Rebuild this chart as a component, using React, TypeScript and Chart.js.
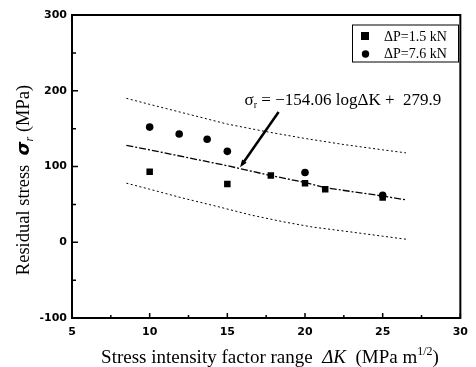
import { useEffect, useRef } from 'react';
import { Chart, registerables } from 'chart.js';

Chart.register(...registerables);

// ---- data ----
const xTickValues = [5, 10, 15, 20, 25, 30];
const yTickValues = [-100, 0, 100, 200, 300];
const seriesLabels = ['ΔP=1.5 kN', 'ΔP=7.6 kN'];

const lowLoadK = [10, 15, 17.8, 20, 21.3, 25];
const lowLoadStress = [93, 77, 88, 78, 70, 59];

const highLoadK = [10, 11.9, 13.7, 15, 20, 25];
const highLoadStress = [152, 143, 136, 120, 92, 62];

const fitK = [8.5, 10, 15, 17.8, 20, 21.3, 25, 26.5];
const fitStress = [128, 122, 101, 88, 79, 72, 61, 56];

const upperK = [8.5, 10, 12.5, 15, 17.5, 20, 22.5, 25, 26.5];
const upperStress = [190, 182, 169, 156, 146, 137, 129, 122, 118];

const lowerK = [8.5, 10, 12, 14.4, 16.5, 18.6, 20.5, 22.8, 25, 26.5];
const lowerStress = [78, 70, 59, 47, 36, 27, 20, 14, 8, 4];

// arrow: from label end to the fitted line
const arrowFrom = { x: 18.3, y: 172 };
const arrowTo = { x: 15.82, y: 99 };
const equationAnchor = { x: 16.11, y: 181 };

const zip = (xs: number[], ys: number[]) => xs.map((x, i) => ({ x, y: ys[i] }));

type Seg = { t: string; font: string; dy?: number };

function drawSegs(ctx: CanvasRenderingContext2D, segs: Seg[], x: number, y: number, align: 'left' | 'center') {
  const widths = segs.map((s) => {
    ctx.font = s.font;
    return ctx.measureText(s.t).width;
  });
  const total = widths.reduce((a, b) => a + b, 0);
  let cx = align === 'center' ? x - total / 2 : x;
  ctx.textAlign = 'left';
  segs.forEach((s, i) => {
    ctx.font = s.font;
    ctx.fillText(s.t, cx, y + (s.dy || 0));
    cx += widths[i];
  });
}

const SERIF = '"Liberation Serif", "Times New Roman", serif';

const decorPlugin = {
  id: 'decor',
  afterDraw(chart: any) {
    const ctx: CanvasRenderingContext2D = chart.ctx;
    const { left, right, top, bottom } = chart.chartArea;
    const xs = chart.scales.x;
    const ys = chart.scales.y;
    ctx.save();
    ctx.strokeStyle = '#000';
    ctx.fillStyle = '#000';

    // frame
    ctx.lineWidth = 2;
    ctx.strokeRect(left, top, right - left, bottom - top);

    // inward ticks
    ctx.lineWidth = 1.5;
    ctx.beginPath();
    for (let v = 5; v <= 30; v += 2.5) {
      const px = xs.getPixelForValue(v);
      const len = v % 5 === 0 ? 5 : 3;
      ctx.moveTo(px, bottom);
      ctx.lineTo(px, bottom - len);
    }
    for (let v = -100; v <= 300; v += 50) {
      const py = ys.getPixelForValue(v);
      const len = v % 100 === 0 ? 6 : 4;
      ctx.moveTo(left, py);
      ctx.lineTo(left + len, py);
    }
    ctx.stroke();

    // arrow
    const ax1 = xs.getPixelForValue(arrowFrom.x);
    const ay1 = ys.getPixelForValue(arrowFrom.y);
    const ax2 = xs.getPixelForValue(arrowTo.x);
    const ay2 = ys.getPixelForValue(arrowTo.y);
    const ang = Math.atan2(ay2 - ay1, ax2 - ax1);
    ctx.lineWidth = 2.5;
    ctx.beginPath();
    ctx.moveTo(ax1, ay1);
    ctx.lineTo(ax2 - 4 * Math.cos(ang), ay2 - 4 * Math.sin(ang));
    ctx.stroke();
    ctx.beginPath();
    ctx.moveTo(ax2, ay2);
    ctx.lineTo(ax2 - 8 * Math.cos(ang - 0.35), ay2 - 8 * Math.sin(ang - 0.35));
    ctx.lineTo(ax2 - 8 * Math.cos(ang + 0.35), ay2 - 8 * Math.sin(ang + 0.35));
    ctx.closePath();
    ctx.fill();

    // equation
    ctx.textBaseline = 'alphabetic';
    const ex = xs.getPixelForValue(equationAnchor.x);
    const ey = ys.getPixelForValue(equationAnchor.y);
    drawSegs(
      ctx,
      [
        { t: 'σ', font: `17px ${SERIF}` },
        { t: 'r', font: `10px ${SERIF}`, dy: 3 },
        { t: ' = −154.06 logΔK +  279.9', font: `17px ${SERIF}` },
      ],
      ex,
      ey,
      'left'
    );

    // legend
    const lx = 352.5, ly = 25, lw = 106, lh = 37;
    ctx.lineWidth = 1;
    ctx.strokeRect(lx, ly, lw, lh);
    ctx.fillRect(361, 32, 8, 8);
    ctx.beginPath();
    ctx.arc(365.5, 54, 3.7, 0, Math.PI * 2);
    ctx.fill();
    ctx.font = `14px ${SERIF}`;
    ctx.fillText(seriesLabels[0], 384, 40.5);
    ctx.fillText(seriesLabels[1], 384, 57.5);

    // x title
    drawSegs(
      ctx,
      [
        { t: 'Stress intensity factor range  ', font: `19px ${SERIF}` },
        { t: 'ΔK', font: `italic 19px ${SERIF}` },
        { t: '  (MPa m', font: `19px ${SERIF}` },
        { t: '1/2', font: `12px ${SERIF}`, dy: -8 },
        { t: ')', font: `19px ${SERIF}` },
      ],
      270,
      363,
      'center'
    );

    // y title
    ctx.save();
    ctx.translate(29, 180);
    ctx.rotate(-Math.PI / 2);
    drawSegs(
      ctx,
      [
        { t: 'Residual stress  ', font: `18.5px ${SERIF}` },
        { t: 'σ', font: `italic bold 18px "DejaVu Sans", sans-serif` },
        { t: 'r', font: `italic 12px ${SERIF}`, dy: 4 },
        { t: ' (MPa)', font: `18.5px ${SERIF}` },
      ],
      0,
      0,
      'center'
    );
    ctx.restore();

    ctx.restore();
  },
};

export default function App() {
  const ref = useRef<HTMLCanvasElement | null>(null);
  useEffect(() => {
    if (!ref.current) return;
    const tickFont = { family: '"DejaVu Sans", "Liberation Sans", sans-serif', size: 11, weight: 'bold' as const };
    const chart = new Chart(ref.current, {
      type: 'scatter',
      data: {
        datasets: [
          {
            label: seriesLabels[0],
            data: zip(lowLoadK, lowLoadStress),
            pointStyle: 'rect',
            pointRadius: 4.6,
            backgroundColor: '#000',
            borderColor: '#000',
            borderWidth: 0,
          },
          {
            label: seriesLabels[1],
            data: zip(highLoadK, highLoadStress),
            pointStyle: 'circle',
            pointRadius: 3.8,
            backgroundColor: '#000',
            borderColor: '#000',
            borderWidth: 0,
          },
          {
            label: 'fit',
            data: zip(fitK, fitStress),
            showLine: true,
            pointRadius: 0,
            borderColor: '#000',
            borderWidth: 1.3,
            borderDash: [7, 2, 2, 2],
          },
          {
            label: 'upper',
            data: zip(upperK, upperStress),
            showLine: true,
            pointRadius: 0,
            borderColor: '#000',
            borderWidth: 1,
            borderDash: [2, 2.5],
          },
          {
            label: 'lower',
            data: zip(lowerK, lowerStress),
            showLine: true,
            pointRadius: 0,
            borderColor: '#000',
            borderWidth: 1,
            borderDash: [2, 2.5],
          },
        ],
      },
      options: {
        animation: false,
        responsive: false,
        maintainAspectRatio: false,
        layout: { padding: { left: 0, top: 15, right: 8, bottom: 0 } },
        plugins: { legend: { display: false }, tooltip: { enabled: false } },
        scales: {
          x: {
            type: 'linear',
            min: 5,
            max: 30,
            afterFit: (s: any) => { s.height = 49; },
            afterBuildTicks: (s: any) => { s.ticks = xTickValues.map((v) => ({ value: v })); },
            grid: { display: false, drawTicks: false },
            border: { display: false },
            ticks: { color: '#000', font: tickFont, padding: 8 },
          },
          y: {
            type: 'linear',
            min: -100,
            max: 300,
            afterFit: (s: any) => { s.width = 72; },
            afterBuildTicks: (s: any) => { s.ticks = yTickValues.map((v) => ({ value: v })); },
            grid: { display: false, drawTicks: false },
            border: { display: false },
            ticks: { color: '#000', font: tickFont, padding: 5 },
          },
        },
      },
      plugins: [decorPlugin],
    });
    return () => chart.destroy();
  }, []);
  return (
    <div style={{ position: 'fixed', left: 0, top: 0, width: 476, height: 367, background: '#fff' }}>
      <canvas ref={ref} width={476} height={367} style={{ width: 476, height: 367, display: 'block' }} />
    </div>
  );
}
